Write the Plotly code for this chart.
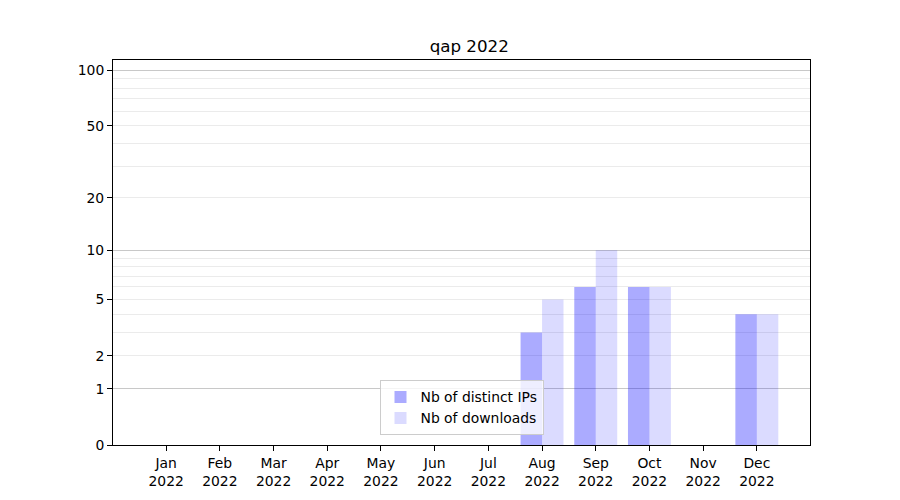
import plotly.graph_objects as go

months = ["Jan", "Feb", "Mar", "Apr", "May", "Jun", "Jul", "Aug", "Sep", "Oct", "Nov", "Dec"]
year = "2022"
distinct_ips = [0, 0, 0, 0, 0, 0, 0, 3, 6, 6, 0, 4]
downloads = [0, 0, 0, 0, 0, 0, 0, 5, 10, 6, 0, 4]

y_ticks = [0, 1, 2, 5, 10, 20, 50, 100]
y_major_grid = [1, 10, 100]
y_minor_grid = [2, 3, 4, 5, 6, 7, 8, 9, 20, 30, 40, 50, 60, 70, 80, 90]

x = list(range(len(months)))
font = "DejaVu Sans, sans-serif"

fig = go.Figure()
fig.add_trace(go.Bar(
    x=x, y=distinct_ips, base=[1] * len(x), offset=-0.4, width=0.4,
    name="Nb of distinct IPs", marker=dict(color="rgba(0,0,255,0.33)", line=dict(width=0)),
))
fig.add_trace(go.Bar(
    x=x, y=downloads, base=[1] * len(x), offset=0.0, width=0.4,
    name="Nb of downloads", marker=dict(color="rgba(0,0,255,0.14)", line=dict(width=0)),
))

yrange = [0, 2.059]
fig.update_layout(
    width=900, height=500,
    paper_bgcolor="white", plot_bgcolor="white",
    margin=dict(l=105, r=98, t=52, b=63),
    barmode="overlay",
    font=dict(family=font, size=13.9, color="black"),
    title=dict(text="qap 2022", x=0.5125, xanchor="center", y=0.924, yanchor="middle",
               font=dict(family=font, size=16.7, color="black")),
    showlegend=True,
    legend=dict(x=0.5, xanchor="center", y=0.025, yanchor="bottom",
                bgcolor="rgba(255,255,255,0.8)", bordercolor="#cccccc", borderwidth=1,
                font=dict(family=font, size=13.9), traceorder="normal",
                itemsizing="constant", tracegroupgap=0),
    xaxis=dict(
        range=[-0.99, 11.99], tickmode="array", tickvals=x,
        ticktext=[f"{m}<br>{year}" for m in months],
        showgrid=False, zeroline=False,
        showline=True, linecolor="black", linewidth=1, mirror=True,
        ticks="outside", ticklen=5, tickcolor="black", tickwidth=1,
    ),
    yaxis=dict(
        type="log", range=yrange, tickmode="array",
        tickvals=[t + 1 for t in y_ticks], ticktext=[str(t) for t in y_ticks],
        showgrid=False, zeroline=False,
        showline=True, linecolor="black", linewidth=1, mirror=True,
        ticks="outside", ticklen=5, tickcolor="black", tickwidth=1,
        minor=dict(tickmode="array", tickvals=[t + 1 for t in y_minor_grid],
                   showgrid=True, gridcolor="#ebebeb", gridwidth=1, ticks=""),
        layer="above traces",
    ),
    yaxis2=dict(
        type="log", range=yrange, overlaying="y", side="left",
        tickmode="array", tickvals=[t + 1 for t in y_major_grid],
        showticklabels=False, ticks="", showgrid=True, gridcolor="#c8c8c8", gridwidth=1,
        zeroline=False, showline=False,
    ),
)
# invisible trace to activate yaxis2
fig.add_trace(go.Scatter(x=[0], y=[2], yaxis="y2", mode="markers",
                         marker=dict(opacity=0), showlegend=False, hoverinfo="skip"))

fig.write_html("out.html")
